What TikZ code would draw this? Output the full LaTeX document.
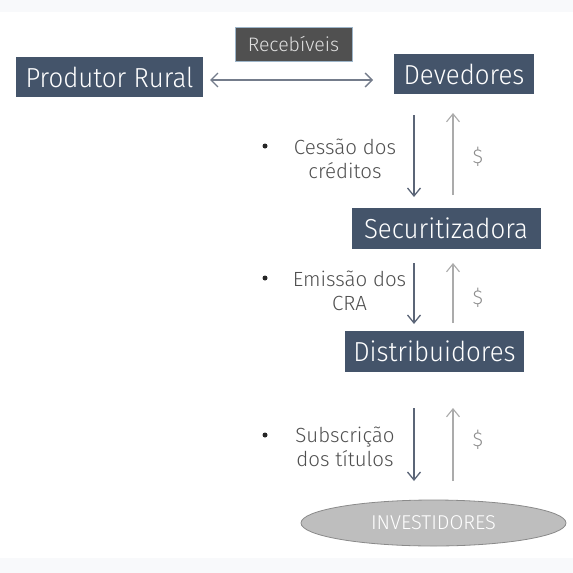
\documentclass[tikz,border=0pt]{standalone}
\usepackage{fontspec}
\setmainfont{Fira Sans}
\newfontfamily\boxfont{Fira Sans}[UprightFont={* Light}, FakeStretch=0.94]
\newfontfamily\lightfont{Fira Sans}[UprightFont={* Light}]
\usetikzlibrary{arrows.meta,shapes.geometric}
\definecolor{boxblue}{HTML}{44546A}
\definecolor{recgrey}{HTML}{505050}
\definecolor{recborder}{HTML}{9DB5C9}
\definecolor{downcol}{HTML}{5B6577}
\definecolor{upcol}{HTML}{ABABAB}
\definecolor{txtgrey}{HTML}{4F4F4F}
\definecolor{dollargrey}{HTML}{8C8C8C}
\definecolor{ellfill}{HTML}{BEBEBE}
\definecolor{ellborder}{HTML}{8A8A8A}
\definecolor{stripcol}{HTML}{F8F9FB}
\tikzset{
  bluebox/.style={fill=boxblue, text=white, inner sep=0pt, font=\boxfont\fontsize{27.5}{30}\selectfont},
  recbox/.style={fill=recgrey, draw=recborder, line width=0.8pt, text=white!88!black, inner sep=0pt, font=\lightfont\fontsize{19.5}{21}\selectfont},
  graytxt/.style={text=txtgrey, align=center, inner sep=0pt, font=\lightfont\fontsize{20.5}{24}\selectfont},
  bul/.style={circle, fill=black!85, inner sep=0pt, minimum size=5pt},
  dollar/.style={text=dollargrey, inner sep=0pt, font=\lightfont\fontsize{20}{22}\selectfont},
  downarr/.style={draw=downcol, line width=1.4pt, -{Straight Barb[length=8pt,width=13pt,line width=1.3pt]}},
  uparr/.style={draw=upcol, line width=1.2pt, -{Straight Barb[length=8pt,width=13pt,line width=1.1pt]}},
  dblarr/.style={draw=downcol!85!white, line width=1.6pt, {Straight Barb[length=7pt,width=14pt,line width=1.4pt]}-{Straight Barb[length=7pt,width=14pt,line width=1.4pt]}},
}
\begin{document}
\begin{tikzpicture}[x=1pt,y=-1pt]
\useasboundingbox (0,0) rectangle (573,573);
\fill[stripcol] (0,0) rectangle (573,12);
\fill[stripcol] (0,558) rectangle (573,573);

\node[bluebox, minimum width=187pt, minimum height=40pt] (prod) at (109.5,77) {Produtor Rural};
\node[recbox, minimum width=117pt, minimum height=34pt] (rec) at (293.5,44) {Recebíveis};
\node[bluebox, minimum width=140pt, minimum height=40pt] (dev) at (464,74) {Devedores};
\node[bluebox, minimum width=189pt, minimum height=41pt] (sec) at (446,228.5) {Securitizadora};
\node[bluebox, minimum width=179pt, minimum height=41pt] (dist) at (434.5,351.5) {Distribuidores};
\node[ellipse, fill=ellfill, draw=ellborder, line width=0.8pt, minimum width=265pt, minimum height=46pt, inner sep=0pt, text=white, font=\lightfont\fontsize{20}{22}\selectfont] (inv) at (433.5,523) {INVESTIDORES};

% Recebiveis double arrow
\coordinate (ra) at (210,80);
\coordinate (rb) at (373,80);
\draw[dblarr] (ra) -- (rb);

% Level 1
\coordinate (d1a) at (414,115);
\coordinate (d1b) at (414,197);
\coordinate (u1a) at (453,195);
\coordinate (u1b) at (453,113);
\draw[downarr] (d1a) -- (d1b);
\draw[uparr] (u1a) -- (u1b);
\node[bul] (b1) at (265,146) {};
\node[graytxt] (t1) at (345,159) {Cessão dos\\créditos};
\node[dollar] (s1) at (478,157) {\$};

% Level 2
\coordinate (d2a) at (414,263);
\coordinate (d2b) at (414,324);
\coordinate (u2a) at (453,323);
\coordinate (u2b) at (453,263);
\draw[downarr] (d2a) -- (d2b);
\draw[uparr] (u2a) -- (u2b);
\node[bul] (b2) at (265,278) {};
\node[graytxt] (t2) at (349.5,291) {Emissão dos\\CRA};
\node[dollar] (s2) at (478,298) {\$};

% Level 3
\coordinate (d3a) at (414,408);
\coordinate (d3b) at (414,481);
\coordinate (u3a) at (453,481);
\coordinate (u3b) at (453,408);
\draw[downarr] (d3a) -- (d3b);
\draw[uparr] (u3a) -- (u3b);
\node[bul] (b3) at (265,435) {};
\node[graytxt] (t3) at (345,446.5) {Subscrição\\dos títulos};
\node[dollar] (s3) at (478,440) {\$};
\end{tikzpicture}
\end{document}
